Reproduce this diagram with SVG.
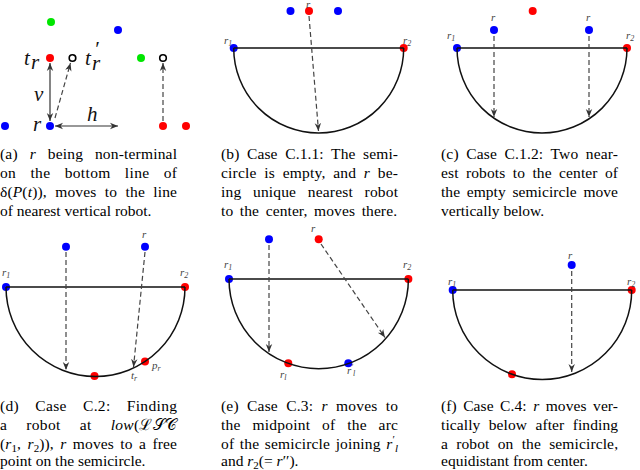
<svg xmlns="http://www.w3.org/2000/svg" width="640" height="470" viewBox="0 0 640 470">
<style>
.cap{font-family:"Liberation Serif","DejaVu Serif",serif;font-size:15.5px;fill:#000}
.it{font-style:italic}
.lbl{font-family:"Liberation Serif","DejaVu Serif",serif;font-style:italic;font-size:11px;fill:#444}
.big{font-family:"Liberation Serif","DejaVu Serif",serif;font-style:italic;font-size:21px;fill:#111}
.blue{fill:#0000ff}
.red{fill:#ff0000}
.green{fill:#00e600}
.hollow{fill:#fff;stroke:#000;stroke-width:1.6}
.arc{fill:none;stroke:#111;stroke-width:1.5}
.dash{fill:none;stroke:#444;stroke-width:1.2;stroke-dasharray:5 3;marker-end:url(#ah)}
.dbl{fill:none;stroke:#333;stroke-width:1.2;marker-start:url(#ah);marker-end:url(#ah)}
</style>
<defs>
<marker id="ah" viewBox="0 0 10 10" refX="10" refY="5" markerWidth="8" markerHeight="8" markerUnits="userSpaceOnUse" orient="auto-start-reverse">
<path d="M0,1 L10,5 L0,9 L3,5 z" fill="#333"/>
</marker>
</defs>
<rect width="640" height="470" fill="#fff"/>

<!-- Panel (a) -->
<g id="panel-a">
<g id="a-green1"><circle class="green" cx="51" cy="22" r="4"/></g>
<g id="a-blue1"><circle class="blue" cx="118" cy="30" r="4"/></g>
<g id="a-tr"><circle class="red" cx="50" cy="58" r="4"/></g>
<g id="a-trp"><circle class="hollow" cx="72.5" cy="58" r="3.3"/></g>
<g id="a-green2"><circle class="green" cx="141" cy="58" r="4"/></g>
<g id="a-hollow2"><circle class="hollow" cx="163" cy="58" r="3.3"/></g>
<g id="a-blue2"><circle class="blue" cx="5" cy="126" r="4"/></g>
<g id="a-r"><circle class="blue" cx="50" cy="126" r="4"/></g>
<g id="a-red1"><circle class="red" cx="163" cy="126" r="4"/></g>
<g id="a-red2"><circle class="red" cx="186" cy="126" r="4"/></g>
<text class="big" x="24" y="65">t</text><text class="big" x="31" y="69" font-size="14">r</text>
<text class="big" x="85" y="65">t</text><text class="big" x="94" y="56" font-size="13" font-style="normal">′</text><text class="big" x="92" y="70" font-size="14">r</text>
<text class="big" x="34" y="101">v</text>
<text class="big" x="33" y="131">r</text>
<text class="big" x="87" y="121">h</text>
</g>

<!-- Panel (b) -->
<g id="panel-b">
<g id="b-blue1"><circle class="blue" cx="290.5" cy="11" r="4"/></g>
<g id="b-r"><circle class="red" cx="309" cy="11" r="4"/></g>
<g id="b-blue2"><circle class="blue" cx="338" cy="11" r="4"/></g>
<g id="b-r1"><circle class="blue" cx="233.7" cy="48" r="4"/></g>
<g id="b-r2"><circle class="red" cx="403.7" cy="48" r="4"/></g>
<text class="lbl" x="306" y="8">r</text>
<text class="lbl" x="224" y="44">r<tspan font-size="8" dy="2">1</tspan></text>
<text class="lbl" x="403" y="44">r<tspan font-size="8" dy="2">2</tspan></text>
</g>

<!-- Panel (c) -->
<g id="panel-c">
<g id="c-red"><circle class="red" cx="532.7" cy="11" r="4"/></g>
<g id="c-rA"><circle class="blue" cx="494" cy="30" r="4"/></g>
<g id="c-rB"><circle class="blue" cx="589" cy="30" r="4"/></g>
<g id="c-r1"><circle class="blue" cx="457" cy="48" r="4"/></g>
<g id="c-r2"><circle class="red" cx="627" cy="48" r="4"/></g>
<text class="lbl" x="491" y="21">r</text>
<text class="lbl" x="586" y="21">r</text>
<text class="lbl" x="447" y="39">r<tspan font-size="8" dy="2">1</tspan></text>
<text class="lbl" x="626" y="39">r<tspan font-size="8" dy="2">2</tspan></text>
</g>

<!-- Panel (d) -->
<g id="panel-d">
<g id="d-blue1"><circle class="blue" cx="66" cy="246.7" r="4"/></g>
<g id="d-r"><circle class="blue" cx="145" cy="246.7" r="4"/></g>
<g id="d-r1"><circle class="blue" cx="6" cy="287" r="4"/></g>
<g id="d-r2"><circle class="red" cx="185" cy="287" r="4"/></g>
<g id="d-low"><circle class="red" cx="94.5" cy="376" r="4"/></g>
<g id="d-pr"><circle class="red" cx="145" cy="361.5" r="4"/></g>
<text class="lbl" x="142" y="238">r</text>
<text class="lbl" x="2" y="276">r<tspan font-size="8" dy="2">1</tspan></text>
<text class="lbl" x="180" y="276">r<tspan font-size="8" dy="2">2</tspan></text>
<text class="lbl" x="152" y="369">p<tspan font-size="8" dy="2">r</tspan></text>
<text class="lbl" x="131" y="379">t<tspan font-size="8" dy="2">r</tspan></text>
</g>

<!-- Panel (e) -->
<g id="panel-e">
<g id="e-blue1"><circle class="blue" cx="269" cy="239.3" r="4"/></g>
<g id="e-r"><circle class="red" cx="318.7" cy="239.3" r="4"/></g>
<g id="e-r1"><circle class="blue" cx="229" cy="279" r="4"/></g>
<g id="e-r2"><circle class="red" cx="408.4" cy="279" r="4"/></g>
<g id="e-rl"><circle class="red" cx="288.3" cy="363.2" r="4"/></g>
<g id="e-rlp"><circle class="blue" cx="348.3" cy="363.3" r="4"/></g>
<text class="lbl" x="311" y="232">r</text>
<text class="lbl" x="224" y="268">r<tspan font-size="8" dy="2">1</tspan></text>
<text class="lbl" x="403" y="268">r<tspan font-size="8" dy="2">2</tspan></text>
<text class="lbl" x="280" y="378">r<tspan font-size="8" dy="2">l</tspan></text>
<text class="lbl" x="347" y="374">r<tspan font-size="8" dy="-4">′</tspan><tspan font-size="8" dy="6">l</tspan></text>
</g>

<!-- Panel (f) -->
<g id="panel-f">
<g id="f-r"><circle class="blue" cx="571.7" cy="265" r="4"/></g>
<g id="f-r1"><circle class="blue" cx="452.7" cy="290" r="4"/></g>
<g id="f-r2"><circle class="red" cx="631.7" cy="290" r="4"/></g>
<g id="f-red"><circle class="red" cx="512" cy="374.3" r="4"/></g>
<text class="lbl" x="568" y="259">r</text>
<text class="lbl" x="448" y="285">r<tspan font-size="8" dy="2">1</tspan></text>
<text class="lbl" x="627" y="285">r<tspan font-size="8" dy="2">2</tspan></text>
</g>

<!-- Connectors -->
<g id="connectors">
<!-- (a) -->
<path class="dbl" d="M50,63 L50,121"/>
<path class="dbl" d="M55,126 L118,126"/>
<path class="dash" d="M55,118 L70.5,63"/>
<path class="dash" d="M163,121 L163,63"/>
<!-- (b) -->
<path class="arc" d="M233.7,48 L403.7,48 M233.7,48 A85,85 0 0 0 403.7,48"/>
<path class="dash" d="M309,16 L318.5,131"/>
<!-- (c) -->
<path class="arc" d="M457,48 L627,48 M457,48 A85,85 0 0 0 627,48"/>
<path class="dash" d="M494,36 L494,117"/>
<path class="dash" d="M589,36 L589,117"/>
<!-- (d) -->
<path class="arc" d="M6,287 L185,287 M6,287 A89.5,89.5 0 0 0 185,287"/>
<path class="dash" d="M66,252 L66,370"/>
<path class="dash" d="M145,252 L133.5,367"/>
<!-- (e) -->
<path class="arc" d="M229,279 L408.4,279 M229,279 A89.7,89.7 0 0 0 408.4,279"/>
<path class="dash" d="M269,245 L269,352"/>
<path class="dash" d="M321,244 L385,337.5"/>
<!-- (f) -->
<path class="arc" d="M452.7,290 L631.7,290 M452.7,290 A89.5,89.5 0 0 0 631.7,290"/>
<path class="dash" d="M571.7,271 L571.7,372"/>
</g>

<!-- Captions -->
<g id="captions">
<text class="cap" x="0" y="159" textLength="177" lengthAdjust="spacing" word-spacing="7.8">(a) <tspan class="it">r</tspan> being non-terminal</text>
<text class="cap" x="0" y="178" textLength="177" lengthAdjust="spacing" word-spacing="10">on the bottom line of</text>
<text class="cap" x="0" y="197" textLength="177" lengthAdjust="spacing" word-spacing="4.4">δ(<tspan class="it">P</tspan>(<tspan class="it">t</tspan>)), moves to the line</text>
<text class="cap" x="0" y="216">of nearest vertical robot.</text>

<text class="cap" x="221" y="159" textLength="177" lengthAdjust="spacing" word-spacing="3.6">(b) Case C.1.1: The semi-</text>
<text class="cap" x="221" y="178" textLength="177" lengthAdjust="spacing" word-spacing="3.7">circle is empty, and <tspan class="it">r</tspan> be-</text>
<text class="cap" x="221" y="197" textLength="177" lengthAdjust="spacing" word-spacing="7.6">ing unique nearest robot</text>
<text class="cap" x="221" y="216" textLength="176" lengthAdjust="spacing" word-spacing="2.6">to the center, moves there.</text>

<text class="cap" x="441" y="159" textLength="177" lengthAdjust="spacing" word-spacing="3.4">(c) Case C.1.2: Two near-</text>
<text class="cap" x="441" y="178" textLength="177" lengthAdjust="spacing" word-spacing="3.4">est robots to the center of</text>
<text class="cap" x="441" y="197" textLength="177" lengthAdjust="spacing" word-spacing="2.7">the empty semicircle move</text>
<text class="cap" x="441" y="216">vertically below.</text>

<text class="cap" x="0" y="411" textLength="177" lengthAdjust="spacing" word-spacing="12">(d) Case C.2: Finding</text>
<text class="cap" x="0" y="430" textLength="177" lengthAdjust="spacing" word-spacing="15">a robot at <tspan class="it">low</tspan>(ℒ𝒮𝒞</text>
<text class="cap" x="0" y="449" textLength="177" lengthAdjust="spacing" word-spacing="2.5">(<tspan class="it">r</tspan><tspan font-size="11" dy="3">1</tspan><tspan dy="-3">, </tspan><tspan class="it">r</tspan><tspan font-size="11" dy="3">2</tspan><tspan dy="-3">)), </tspan><tspan class="it">r</tspan> moves to a free</text>
<text class="cap" x="0" y="466">point on the semicircle.</text>

<text class="cap" x="221" y="411" textLength="177" lengthAdjust="spacing" word-spacing="4.3">(e) Case C.3: <tspan class="it">r</tspan> moves to</text>
<text class="cap" x="221" y="430" textLength="177" lengthAdjust="spacing" word-spacing="7.6">the midpoint of the arc</text>
<text class="cap" x="221" y="449" textLength="177" lengthAdjust="spacing" word-spacing="1.6">of the semicircle joining <tspan class="it">r</tspan><tspan font-size="11" dy="-6">′</tspan><tspan class="it" font-size="11" dy="9">l</tspan></text>
<text class="cap" x="221" y="466">and <tspan class="it">r</tspan><tspan font-size="11" dy="3">2</tspan><tspan dy="-3">(= </tspan><tspan class="it">r</tspan>′′).</text>

<text class="cap" x="441" y="411" textLength="177" lengthAdjust="spacing" word-spacing="2.4">(f) Case C.4: <tspan class="it">r</tspan> moves ver-</text>
<text class="cap" x="441" y="430" textLength="177" lengthAdjust="spacing" word-spacing="4.4">tically below after finding</text>
<text class="cap" x="441" y="449" textLength="177" lengthAdjust="spacing" word-spacing="4.2">a robot on the semicircle,</text>
<text class="cap" x="441" y="466">equidistant from center.</text>
</g>
</svg>
